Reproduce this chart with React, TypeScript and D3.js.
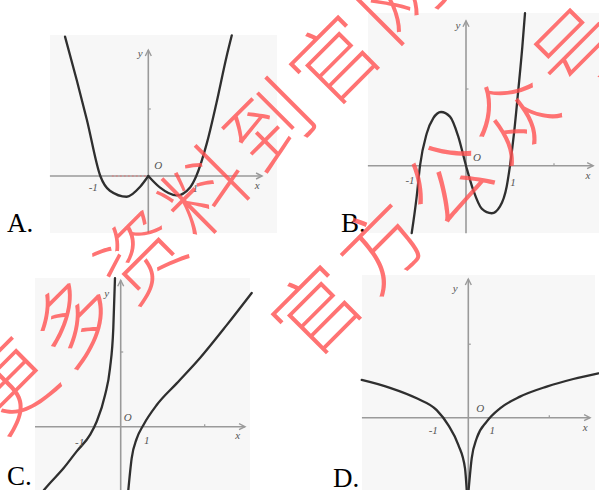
import React from "react";
import * as d3 from "d3";

type Pt = [number, number];

const W = 599;
const H = 490;

// ---- curves (math units of each panel) ----
const curveALeft: Pt[] = [[-1.735, 2.08], [-1.49, 1.43], [-1.28, 0.84], [-1.0, 0], [-0.8, -0.22], [-0.45, -0.31], [-0.17, -0.16], [0, 0]];
const curveARight: Pt[] = [[0, 0], [0.24, -0.17], [0.59, -0.29], [0.87, -0.17], [1.0, 0], [1.22, 0.49], [1.42, 1.09], [1.63, 1.78], [1.74, 2.1]];

const curveB: Pt[] = [
  [-1.234, -0.88], [-1.12, -0.4], [-1.045, 0], [-0.893, 0.42], [-0.743, 0.62], [-0.568, 0.7], [-0.364, 0.64],
  [-0.175, 0.38], [0, 0], [0.166, -0.32], [0.357, -0.56], [0.584, -0.62], [0.773, -0.53], [0.925, -0.27],
  [1.0, 0], [1.091, 0.42], [1.189, 0.99], [1.28, 1.55], [1.341, 1.99],
];

const curveCLeft: Pt[] = [[-0.136, 1.99], [-0.176, 1.32], [-0.255, 0.78], [-0.374, 0.42], [-0.571, 0.07], [-0.731, -0.11], [-1.048, -0.33], [-1.367, -0.56], [-1.724, -0.78], [-1.83, -0.85]];
const curveCRight: Pt[] = [[0.181, -0.85], [0.262, -0.42], [0.381, -0.16], [0.538, 0.02], [0.857, 0.29], [1.333, 0.58], [1.888, 0.92], [2.524, 1.36], [3.119, 1.79]];

const curveDLeft: Pt[] = [[-3.948, 1.54], [-2.9, 1.22], [-1.911, 0.79], [-1.17, 0.31], [-0.741, -0.3], [-0.37, -1.11], [-0.122, -2.07], [-0.059, -2.95]];
const curveDRight: Pt[] = [[0.011, -2.95], [0.126, -1.66], [0.311, -0.84], [0.681, -0.16], [1.174, 0.38], [1.915, 0.86], [2.904, 1.27], [3.889, 1.58], [4.815, 1.81]];

// tick values on the axes
const ticksAY = [1];
const ticksBX = [2];
const ticksBY = [1];
const ticksCX = [2];
const ticksCY = [1];
const ticksDX = [3];
const ticksDY = [3];

// watermark text
const mark1 = ["更", "多", "资", "料", "到", "官", "网"];
const mark2 = ["官", "方", "公", "众", "号"];

interface PanelProps {
  frame: [number, number, number, number];
  origin: Pt;
  unit: Pt;
  xExt: Pt;
  yExt: Pt;
  xTicks: number[];
  yTicks: number[];
  curves: Pt[][];
  labels: [string, number, number][];
  letter: string;
  letterPos: Pt;
  redSeg?: Pt;
}

const AXIS = "#9a9a9a";
const INK = "#2f2f2f";

function Panel(p: PanelProps) {
  const x = d3.scaleLinear().domain([0, 1]).range([p.origin[0], p.origin[0] + p.unit[0]]);
  const y = d3.scaleLinear().domain([0, 1]).range([p.origin[1], p.origin[1] - p.unit[1]]);
  // monotone in x keeps the traced branches free of wiggles
  const line = d3
    .line<Pt>()
    .x((d) => x(d[0]))
    .y((d) => y(d[1]))
    .curve(d3.curveMonotoneX);
  const [fx, fy, fw, fh] = p.frame;
  const xEnd = x(p.xExt[1]);
  const yTop = y(p.yExt[1]);
  const ox = x(0);
  const oy = y(0);
  return (
    <g>
      <rect x={fx} y={fy} width={fw} height={fh} fill="#f7f7f7" />
      {/* axes */}
      <line x1={x(p.xExt[0])} x2={xEnd} y1={oy} y2={oy} stroke={AXIS} strokeWidth={1.6} />
      <line x1={ox} x2={ox} y1={y(p.yExt[0])} y2={yTop} stroke={AXIS} strokeWidth={1.6} />
      <path d={`M${xEnd - 6},${oy - 3}L${xEnd},${oy}L${xEnd - 6},${oy + 3}`} fill="none" stroke={AXIS} strokeWidth={1.4} />
      <path d={`M${ox - 3},${yTop + 6}L${ox},${yTop}L${ox + 3},${yTop + 6}`} fill="none" stroke={AXIS} strokeWidth={1.4} />
      {p.xTicks.map((t) => (
        <line key={"xt" + t} x1={x(t)} x2={x(t)} y1={oy - 2.5} y2={oy} stroke={AXIS} strokeWidth={1.2} />
      ))}
      {p.yTicks.map((t) => (
        <line key={"yt" + t} x1={ox} x2={ox + 2.5} y1={y(t)} y2={y(t)} stroke={AXIS} strokeWidth={1.2} />
      ))}
      {p.redSeg && (
        <line x1={x(p.redSeg[0])} x2={x(p.redSeg[1])} y1={oy} y2={oy} stroke="#e07a7a" strokeWidth={1.2} strokeDasharray="2,2" />
      )}
      {p.curves.map((c, i) => (
        <path
          key={i}
          d={line([...c].sort((a, b) => a[0] - b[0])) || ""}
          fill="none"
          stroke={INK}
          strokeWidth={2.3}
          strokeLinecap="round"
        />
      ))}
      {p.labels.map(([t, dx, dy], i) => (
        <text
          key={"l" + i}
          x={ox + dx}
          y={oy + dy}
          textAnchor="middle"
          dominantBaseline="central"
          fontFamily="Liberation Serif"
          fontStyle="italic"
          fontSize={11}
          fill="#555"
        >
          {t}
        </text>
      ))}
      <text x={p.letterPos[0]} y={p.letterPos[1]} fontFamily="Liberation Serif" fontSize={27} fill="#000">
        {p.letter}
      </text>
    </g>
  );
}

export default function App() {
  const step = 65;
  const line1 = mark1.map((c, i) => ({ c, x: 6 + i * step, y: 382 - i * step }));
  const line2 = mark2.map((c, i) => ({ c, x: 313 + i * step, y: 307 - i * step }));
  return (
    <svg width={W} height={H} style={{ position: "absolute", left: 0, top: 0, background: "#fff" }}>
      <Panel
        frame={[50, 35, 227, 198]}
        origin={[148.3, 176]}
        unit={[48, 67]}
        xExt={[-2.05, 2.37]}
        yExt={[-0.85, 1.88]}
        xTicks={[]}
        yTicks={ticksAY}
        curves={[curveALeft, curveARight]}
        labels={[["y", -8, -123], ["x", 109, 9], ["O", 10, -11], ["-1", -55, 11], ["1", 47, 12]]}
        letter="A."
        letterPos={[7, 232]}
        redSeg={[-0.76, -0.03]}
      />
      <Panel
        frame={[368, 13, 231, 220]}
        origin={[466, 165.7]}
        unit={[44, 76.7]}
        xExt={[-2.23, 2.89]}
        yExt={[-0.88, 1.89]}
        xTicks={ticksBX}
        yTicks={ticksBY}
        curves={[curveB]}
        labels={[["y", -8, -141], ["x", 122, 9], ["O", 11, -9], ["-1", -56, 14], ["1", 47, 16]]}
        letter="B."
        letterPos={[341, 232]}
      />
      <Panel
        frame={[35, 278, 215, 212]}
        origin={[120.7, 426.7]}
        unit={[42, 74.7]}
        xExt={[-2.04, 2.96]}
        yExt={[-0.85, 1.96]}
        xTicks={ticksCX}
        yTicks={ticksCY}
        curves={[curveCLeft, curveCRight]}
        labels={[["y", -14, -134], ["x", 117, 8], ["O", 7, -10], ["-1", -41, 15], ["1", 26, 13]]}
        letter="C."
        letterPos={[7, 485]}
      />
      <Panel
        frame={[362, 275, 233, 215]}
        origin={[468.3, 417.7]}
        unit={[27, 24.5]}
        xExt={[-3.94, 4.51]}
        yExt={[-2.95, 5.66]}
        xTicks={ticksDX}
        yTicks={ticksDY}
        curves={[curveDLeft, curveDRight]}
        labels={[["y", -13, -130], ["x", 117, 9], ["O", 12, -10], ["-1", -35, 12], ["1", 24, 12]]}
        letter="D."
        letterPos={[333, 487]}
      />
      <g fill="rgb(255,80,80)" opacity={0.8} fontFamily="Noto Sans CJK SC" fontWeight={300} fontSize={84}>
        {[...line1, ...line2].map((d, i) => (
          <text
            key={i}
            transform={`translate(${d.x},${d.y}) rotate(-45)`}
            textAnchor="middle"
            dominantBaseline="central"
          >
            {d.c}
          </text>
        ))}
      </g>
    </svg>
  );
}
